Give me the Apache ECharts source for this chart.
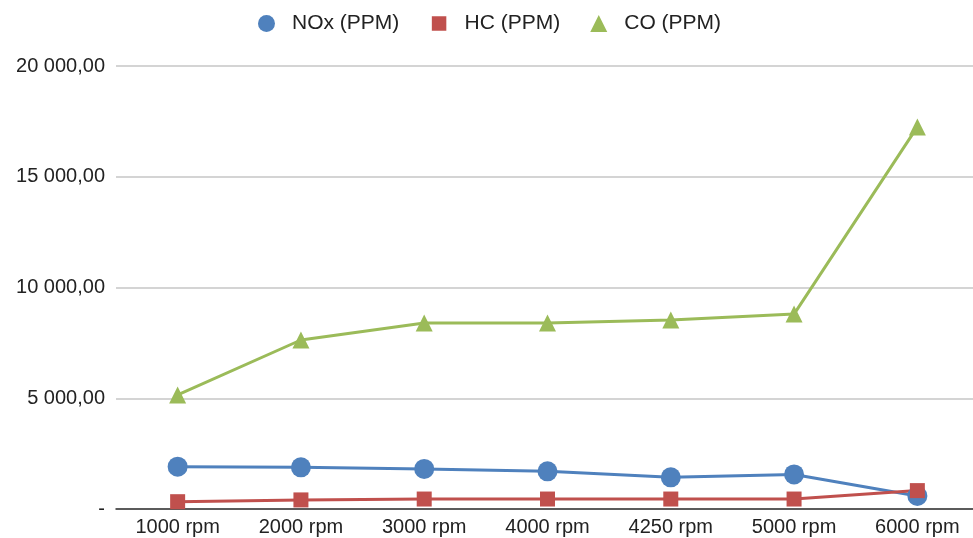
<!DOCTYPE html>
<html>
<head>
<meta charset="utf-8">
<script src="https://cdn.jsdelivr.net/npm/echarts@6/dist/echarts.min.js"></script>
<style>
  html, body { margin: 0; padding: 0; background: #fff; overflow: hidden; }
  #chart { width: 980px; height: 538px; }
</style>
</head>
<body>
<div id="chart"></div>
<script>
// Engine speeds on the x axis
const categories = ['1000 rpm', '2000 rpm', '3000 rpm', '4000 rpm', '4250 rpm', '5000 rpm', '6000 rpm'];

// Emissions in PPM
const noxValues = [1910, 1880, 1810, 1700, 1430, 1560, 590];
const hcValues = [330, 410, 450, 450, 450, 450, 830];
const coValues = [5150, 7630, 8400, 8400, 8530, 8800, 17250];

// Y axis ticks
const yMin = 0;
const yMax = 20000;
const yStep = 5000;

function formatTick(v) {
  if (v === 0) return '-';
  const intPart = Math.floor(v).toString().replace(/\B(?=(\d{3})+(?!\d))/g, ' ');
  return intPart + ',00';
}

const font = 'Liberation Sans, Arial, sans-serif';
const chart = echarts.init(document.getElementById('chart'));

chart.setOption({
  animation: false,
  legend: {
    top: 8,
    left: 253,
    itemGap: 30,
    itemWidth: 17,
    itemHeight: 17,
    textStyle: { fontFamily: font, fontSize: 21, color: '#222', padding: [0, 0, 0, 12] },
    data: [
      { name: 'NOx (PPM)', icon: 'circle' },
      { name: 'HC (PPM)', icon: 'rect', itemStyle: { borderColor: '#fff', borderWidth: 2.5 } },
      { name: 'CO (PPM)', icon: 'triangle' }
    ]
  },
  grid: { left: 116, right: 1, top: 66, bottom: 29, containLabel: false },
  xAxis: {
    type: 'category',
    data: categories,
    boundaryGap: true,
    axisLine: { lineStyle: { color: '#333', width: 1.5 } },
    axisTick: { show: false },
    axisLabel: { fontFamily: font, fontSize: 20, color: '#222', margin: 8 }
  },
  yAxis: {
    type: 'value',
    min: yMin,
    max: yMax,
    interval: yStep,
    axisLine: { show: false },
    axisTick: { show: false },
    splitLine: { lineStyle: { color: '#c6c6c6', width: 1.5 } },
    axisLabel: { fontFamily: font, fontSize: 20, color: '#222', margin: 11, formatter: formatTick }
  },
  series: [
    {
      name: 'NOx (PPM)', type: 'line', data: noxValues,
      symbol: 'circle', symbolSize: 20,
      itemStyle: { color: '#4f81bd' },
      lineStyle: { width: 3, color: '#4f81bd' }
    },
    {
      name: 'HC (PPM)', type: 'line', data: hcValues,
      symbol: 'rect', symbolSize: 15,
      itemStyle: { color: '#c0504d' },
      lineStyle: { width: 3, color: '#c0504d' }
    },
    {
      name: 'CO (PPM)', type: 'line', data: coValues,
      symbol: 'triangle', symbolSize: 17,
      itemStyle: { color: '#9bbb59' },
      lineStyle: { width: 3, color: '#9bbb59' }
    }
  ]
});
</script>
</body>
</html>
